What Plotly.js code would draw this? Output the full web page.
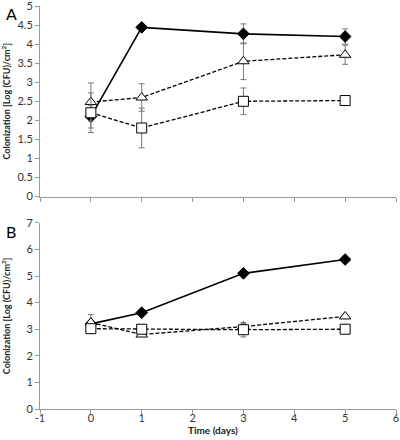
<!DOCTYPE html>
<html>
<head>
<meta charset="utf-8">
<script src="https://cdn.plot.ly/plotly-3.0.1.min.js"></script>
<style>html,body{margin:0;padding:0;background:#fff}#chart{width:400px;height:440px}</style>
</head>
<body>
<div id="chart"></div>
<script>
// Time points (days)
const days = [0, 1, 3, 5];
// Panel A
const aDiamond = [2.1, 4.44, 4.27, 4.2];
const aDiamondErr = [0.3, 0, 0.26, 0.2];
const aTriangle = [2.48, 2.6, 3.55, 3.72];
const aTriangleErr = [0.5, 0.36, 0.48, 0.25];
const aSquare = [2.2, 1.8, 2.5, 2.52];
const aSquareErr = [0.52, 0.52, 0.35, 0.1];
// Panel B
const bDiamond = [3.2, 3.62, 5.1, 5.62];
const bDiamondErr = [0.05, 0.05, 0.05, 0.08];
const bTriangle = [3.25, 2.8, 3.1, 3.48];
const bTriangleErr = [0.3, 0.05, 0.08, 0.08];
const bSquare = [3.02, 3.0, 2.98, 3.0];
const bSquareErr = [0.05, 0.1, 0.27, 0.05];
// Tick labels
const xTickVals = [-1, 0, 1, 2, 3, 4, 5, 6];
const xTickText = ['-1', '0', '1', '2', '3', '4', '5', '6'];
const aYTickVals = [0, 0.5, 1, 1.5, 2, 2.5, 3, 3.5, 4, 4.5, 5];
const aYTickText = ['0', '0.5', '1', '1.5', '2', '2.5', '3', '3.5', '4', '4.5', '5'];
const bYTickVals = [0, 1, 2, 3, 4, 5, 6, 7];

const yTitle = 'Colonization [Log (CFU)/cm<sup>2</sup>]';
const xTitle = '<b>Time (days)</b>';
const panelLabels = ['A', 'B'];

function series(y, err, sym, dash, xa, ya, lw) {
  const filled = sym === 'diamond';
  return {
    x: days, y: y, xaxis: xa, yaxis: ya, type: 'scatter', mode: 'lines+markers',
    line: {color: '#000', width: lw, dash: dash},
    marker: {symbol: sym, size: filled ? 9 : 10, color: filled ? '#000' : '#fff',
             line: {color: '#000', width: 1}},
    error_y: {type: 'data', array: err, visible: true, color: '#777', thickness: 1, width: 3},
    showlegend: false, cliponaxis: false
  };
}

const D = '4px,2px';
const data = [
  series(aDiamond, aDiamondErr, 'diamond', 'solid', 'x', 'y', 1.6),
  series(aTriangle, aTriangleErr, 'triangle-up', D, 'x', 'y', 1.3),
  series(aSquare, aSquareErr, 'square', D, 'x', 'y', 1.3),
  series(bDiamond, bDiamondErr, 'diamond', 'solid', 'x2', 'y2', 1.6),
  series(bTriangle, bTriangleErr, 'triangle-up', D, 'x2', 'y2', 1.3),
  series(bSquare, bSquareErr, 'square', D, 'x2', 'y2', 1.3)
];

const font = {family: 'Lato, "Open Sans", sans-serif', size: 11, color: '#333'};
const axisCommon = {showgrid: false, zeroline: false, showline: true, linecolor: '#999',
  linewidth: 1, ticks: 'outside', ticklen: 4, tickcolor: '#999', fixedrange: true,
  ticklabeloverflow: 'allow'};
const titleFont = {size: 9, color: '#222', family: 'Lato, sans-serif', weight: 'bold'};

const layout = {
  width: 400, height: 440,
  margin: {l: 40, r: 4, t: 6, b: 31},
  paper_bgcolor: '#fff', plot_bgcolor: '#fff',
  font: font,
  xaxis: Object.assign({}, axisCommon, {domain: [0, 1], range: [-1, 6], tickmode: 'array',
    tickvals: xTickVals, showticklabels: false, anchor: 'y'}),
  yaxis: Object.assign({}, axisCommon, {domain: [0.527, 1], range: [0, 5], tickmode: 'array',
    tickvals: aYTickVals, ticktext: aYTickText,
    anchor: 'x', title: {text: yTitle, standoff: 6, font: titleFont}}),
  xaxis2: Object.assign({}, axisCommon, {domain: [0, 1], range: [-1, 6], tickmode: 'array',
    tickvals: xTickVals, ticktext: xTickText, anchor: 'y2', ticklabelstandoff: -5}),
  yaxis2: Object.assign({}, axisCommon, {domain: [0, 0.462], range: [0, 7], tickmode: 'array',
    tickvals: bYTickVals,
    anchor: 'x2', title: {text: yTitle, standoff: 14, font: titleFont}}),
  annotations: [
    {text: panelLabels[0], xref: 'paper', yref: 'paper', x: -0.1, y: 1.01, xanchor: 'left', yanchor: 'top',
     showarrow: false, font: {size: 16, color: '#000', family: 'Lato, sans-serif'}},
    {text: panelLabels[1], xref: 'paper', yref: 'paper', x: -0.1, y: 0.468, xanchor: 'left', yanchor: 'top',
     showarrow: false, font: {size: 16, color: '#000', family: 'Lato, sans-serif'}},
    {text: xTitle, xref: 'paper', yref: 'paper', x: 0.486, y: -0.053, xanchor: 'center', yanchor: 'middle',
     showarrow: false, font: {size: 10, color: '#222', family: 'Lato, sans-serif'}}
  ]
};

Plotly.newPlot('chart', data, layout, {displayModeBar: false, staticPlot: true});
</script>
</body>
</html>
